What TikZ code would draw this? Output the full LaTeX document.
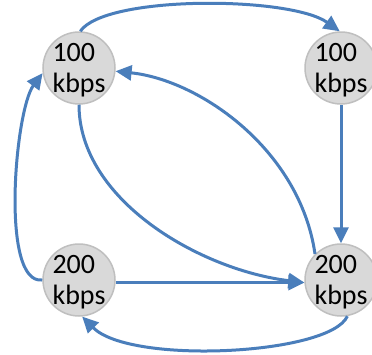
\documentclass[tikz,border=0pt]{standalone}
\usepackage{fontspec}
\setmainfont{Carlito}
\usetikzlibrary{arrows.meta}

\definecolor{linkBlue}{HTML}{4A7EBB}
\definecolor{nodeFill}{HTML}{D9D9D9}
\definecolor{nodeLine}{HTML}{BFBFBF}

\begin{document}
\begin{tikzpicture}[
    x=1pt, y=-1pt,
    % Style for the grey rate circles
    rateNode/.style={
        circle,
        draw=nodeLine,
        fill=nodeFill,
        line width=1.5pt,
        inner sep=0pt,
        minimum size=72pt
    },
    % Style for the text inside each circle
    rateText/.style={
        align=left,
        inner sep=0pt,
        yshift=-2pt,
        font=\fontsize{28}{31}\selectfont
    },
    % Style for the arrows
    linkStyle/.style={
        draw=linkBlue,
        line width=3pt,
        -{Triangle[length=16pt,width=15pt]}
    }
]
    \useasboundingbox (0,0) rectangle (372,354);

    % --- CIRCLES ---
    \node[rateNode] (tl) at (79,68) {};
    \node[rateNode] (tr) at (341,68) {};
    \node[rateNode] (bl) at (79,280) {};
    \node[rateNode] (br) at (341,280) {};

    % --- RATES ---
    \node[rateText] (tlText) at (tl) {100\\kbps};
    \node[rateText] (trText) at (tr) {100\\kbps};
    \node[rateText] (blText) at (bl) {200\\kbps};
    \node[rateText] (brText) at (br) {200\\kbps};

    % --- ARROWS ---
    \draw[linkStyle] (tl.88) .. controls (105,-5) and (290,-4) .. (tr.92);
    \draw[linkStyle] (tr) -- (br);
    \draw[linkStyle] (br.135) .. controls (300,150) and (200,80) .. (tl.-5);
    \draw[linkStyle] (tl.-90) .. controls (79,200) and (200,270) .. (br.184);
    \draw[linkStyle] (bl.-4) -- (br.184);
    \draw[linkStyle] (br.-80) .. controls (330,355) and (130,365) .. (bl.-85);
    \draw[linkStyle] (bl.180) .. controls (0,285) and (15,110) .. (tl.188);

\end{tikzpicture}
\end{document}
